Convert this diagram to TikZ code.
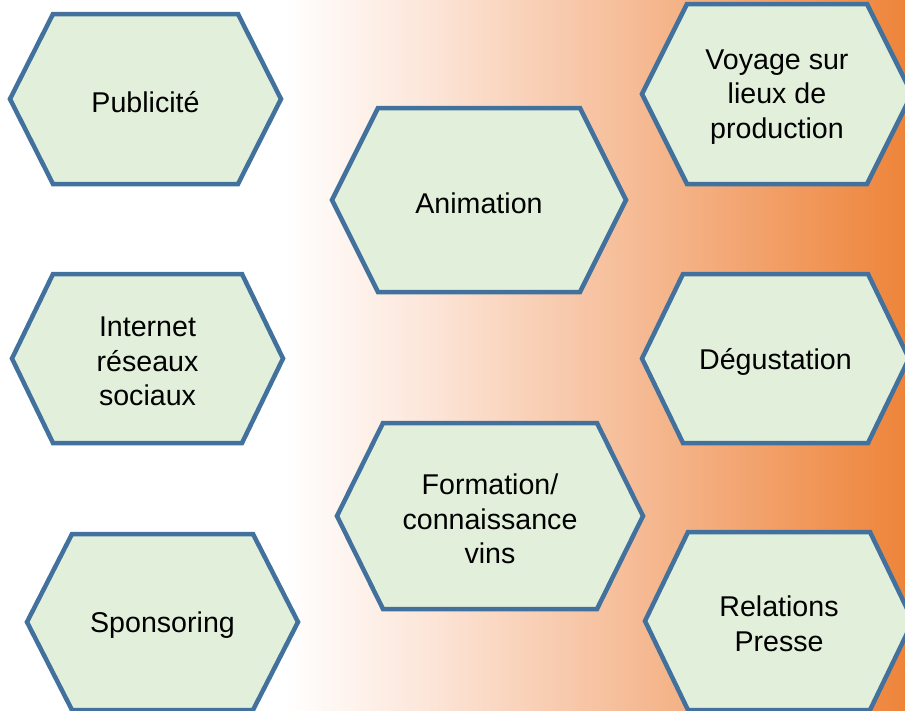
\documentclass[tikz,border=0pt]{standalone}
\usepackage{fontspec}
\setmainfont{Liberation Sans}
\definecolor{hexfill}{RGB}{226,239,218}
\definecolor{hexline}{RGB}{65,113,156}
\definecolor{bgA}{RGB}{252,229,216}
\definecolor{bgB}{RGB}{245,184,144}
\definecolor{bgC}{RGB}{238,132,58}
\tikzset{
  hexstyle/.style={draw=hexline, fill=hexfill, line width=4.5pt, line join=miter},
  hextext/.style={align=center, inner sep=0pt, yshift=-3pt, font=\fontsize{28.6}{34.5}\selectfont, text=black}
}
\newcommand{\hexbox}[7]{%
  \draw[hexstyle] (#2-#4,#3) -- (#2-#4+#6,#3-#5) -- (#2+#4-#6,#3-#5) -- (#2+#4,#3)
     -- (#2+#4-#6,#3+#5) -- (#2-#4+#6,#3+#5) -- cycle;
  \node[hextext] (#1) at (#2,#3) {#7};
}
\begin{document}
\begin{tikzpicture}[x=1pt,y=-1pt]
\useasboundingbox (0,0) rectangle (905,710);
\clip (0,0) rectangle (905,710);
\fill[white] (0,0) rectangle (286,710);
\shade[left color=white, right color=bgA] (285,0) rectangle (431,710);
\shade[left color=bgA, right color=bgB] (430,0) rectangle (651,710);
\shade[left color=bgB, right color=bgC] (650,0) rectangle (905,710);
\hexbox{pub}{145.5}{99}{135.5}{85}{43}{Publicité}
\hexbox{internet}{147.5}{358.5}{135.5}{84.5}{41}{Internet\\réseaux\\sociaux}
\hexbox{sponsoring}{162.5}{622}{135.5}{88}{45}{Sponsoring}
\hexbox{animation}{479}{200}{147}{92}{46}{Animation}
\hexbox{formation}{490}{516}{153}{93}{46}{Formation/\\connaissance\\vins}
\hexbox{voyage}{777}{94}{135}{90}{45}{Voyage sur\\lieux de\\production}
\hexbox{degustation}{775.5}{358.5}{133.5}{84.5}{41}{Dégustation}
\hexbox{relations}{779}{621}{134}{89}{43}{Relations\\Presse}
\end{tikzpicture}
\end{document}
